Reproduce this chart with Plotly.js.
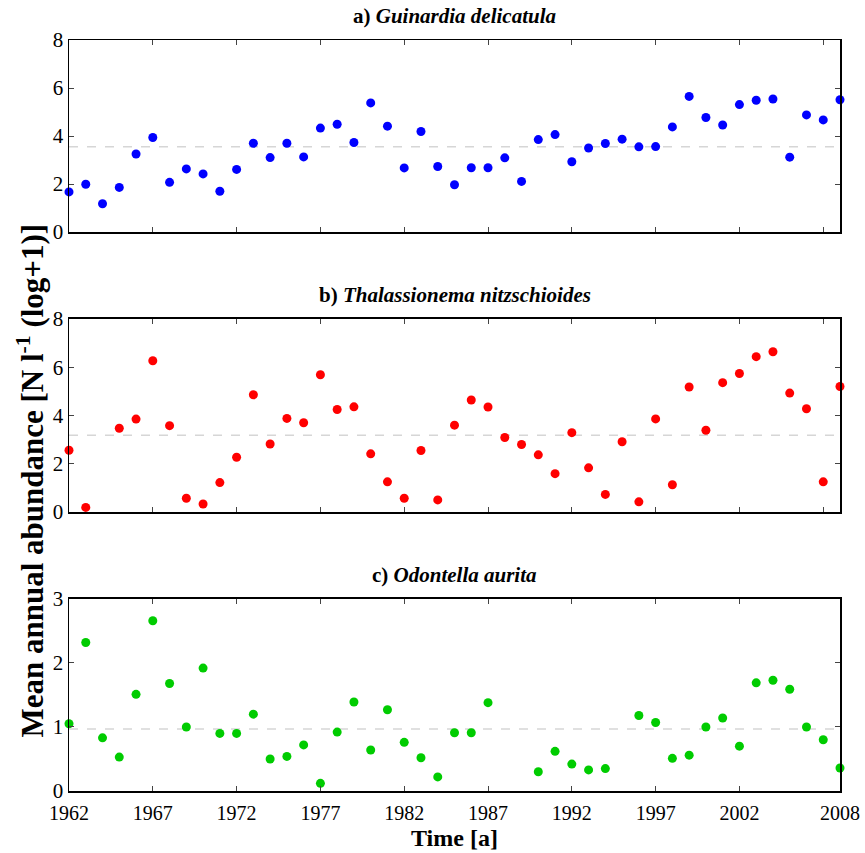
<!DOCTYPE html>
<html>
<head>
<meta charset="utf-8">
<script src="https://cdn.plot.ly/plotly-3.0.1.min.js"></script>
<style>html,body{margin:0;padding:0;background:#fff;}#chart{width:865px;height:853px;}</style>
</head>
<body>
<div id="chart"></div>
<script>
var years = [];
for (var y = 1962; y <= 2008; y++) years.push(y);

var guinardia = [1.67,1.99,1.18,1.86,3.25,3.94,2.07,2.63,2.42,1.70,
  2.61,3.70,3.10,3.70,3.13,4.33,4.49,3.73,5.38,4.41,
  2.67,4.19,2.73,1.97,2.68,2.68,3.09,2.11,3.85,4.06,
  2.93,3.50,3.69,3.87,3.55,3.56,4.38,5.65,4.77,4.46,
  5.31,5.49,5.54,3.12,4.88,4.67,5.51];
var thalassionema = [2.56,0.19,null,3.47,3.85,6.27,3.58,0.57,0.33,1.22,
  2.27,4.86,2.82,3.88,3.70,5.69,4.25,4.36,2.41,1.25,
  0.57,2.55,0.50,3.60,4.64,4.35,3.09,2.80,2.37,1.59,
  3.29,1.83,0.73,2.91,0.42,3.86,1.13,5.18,3.39,5.36,
  5.74,6.44,6.64,4.93,4.28,1.25,5.20];
var odontella = [1.05,2.32,0.83,0.53,1.51,2.66,1.68,1.00,1.92,0.90,
  0.90,1.20,0.50,0.54,0.72,0.12,0.92,1.39,0.64,1.27,
  0.76,0.52,0.22,0.91,0.91,1.38,null,null,0.30,0.62,
  0.42,0.33,0.35,null,1.18,1.07,0.51,0.56,1.00,1.14,
  0.70,1.69,1.73,1.59,1.00,0.80,0.36];

var means = [3.55, 3.18, 0.97];
var seriesNames = ["Guinardia delicatula", "Thalassionema nitzschioides", "Odontella aurita"];
var panelLetters = ["a)", "b)", "c)"];
var colors = ["#0000ff", "#ff0000", "#00cc00"];
var yRanges = [[0, 8], [0, 8], [0, 3]];
var yTicks = [[0, 2, 4, 6, 8], [0, 2, 4, 6, 8], [0, 1, 2, 3]];
var xTicksTop = [1962, 1967, 1972, 1977, 1982, 1987, 1992, 1997, 2002, 2007];
var xTicksBottom = [1962, 1967, 1972, 1977, 1982, 1987, 1992, 1997, 2002, 2008];
var xRange = [1962, 2008];
var series = [guinardia, thalassionema, odontella];

var domains = [[0.7443, 1.0], [0.3715, 0.6285], [0.0, 0.2557]];
var font = "'Liberation Serif', 'Times New Roman', serif";

var traces = [];
var layout = {
  width: 865, height: 853,
  margin: {l: 69, r: 25, t: 40, b: 62},
  paper_bgcolor: "#fff", plot_bgcolor: "#fff",
  showlegend: false,
  font: {family: font, size: 20, color: "#000"},
  annotations: []
};

for (var i = 0; i < 3; i++) {
  var sfx = i === 0 ? "" : String(i + 1);
  traces.push({
    x: [xRange[0], xRange[1]], y: [means[i], means[i]],
    xaxis: "x" + sfx, yaxis: "y" + sfx,
    mode: "lines", line: {color: "#d6d6d6", width: 1.5, dash: "dash"},
    hoverinfo: "skip"
  });
  traces.push({
    x: years, y: series[i],
    xaxis: "x" + sfx, yaxis: "y" + sfx,
    mode: "markers", marker: {color: colors[i], size: 9},
    cliponaxis: false, name: seriesNames[i]
  });
  var isBottom = i === 2;
  layout["xaxis" + sfx] = {
    domain: [0, 1], anchor: "y" + sfx,
    range: xRange, tickmode: "array",
    tickvals: isBottom ? xTicksBottom : xTicksTop,
    ticktext: (isBottom ? xTicksBottom : xTicksTop).map(String),
    showticklabels: isBottom,
    ticks: "inside", ticklen: 5, tickwidth: 1, tickcolor: "#444",
    ticklabelstandoff: 3,
    showline: true, linecolor: "#000", linewidth: 1.5, mirror: "ticks",
    showgrid: false, zeroline: false,
    tickfont: {family: font, size: 20, color: "#000"}
  };
  layout["yaxis" + sfx] = {
    domain: domains[i], anchor: "x" + sfx,
    range: yRanges[i], tickmode: "array", tickvals: yTicks[i],
    ticks: "inside", ticklen: 5, tickwidth: 1, tickcolor: "#444",
    showline: true, linecolor: "#000", linewidth: 1.5, mirror: "ticks",
    showgrid: false, zeroline: false,
    tickfont: {family: font, size: 21, color: "#000"}
  };
  layout.annotations.push({
    xref: "paper", yref: "paper", x: 0.5, y: domains[i][1],
    yshift: 10, xanchor: "center", yanchor: "bottom", showarrow: false,
    text: "<b>" + panelLetters[i] + " <i>" + seriesNames[i] + "</i></b>",
    font: {family: font, size: 21, color: "#000"}
  });
}

layout.annotations.push({
  xref: "paper", yref: "paper", x: 0.5, y: -0.0626,
  xanchor: "center", yanchor: "middle", showarrow: false,
  text: "<b>Time [a]</b>",
  font: {family: font, size: 24, color: "#000"}
});

layout.annotations.push({
  xref: "paper", yref: "paper", x: -0.05, y: 0.414,
  xanchor: "center", yanchor: "middle", showarrow: false, textangle: -90,
  text: "<b>Mean annual abundance [N l<sup>-1</sup> (log+1)]</b>",
  font: {family: font, size: 31, color: "#000"}
});

Plotly.newPlot("chart", traces, layout, {displayModeBar: false, staticPlot: true});
</script>
</body>
</html>
